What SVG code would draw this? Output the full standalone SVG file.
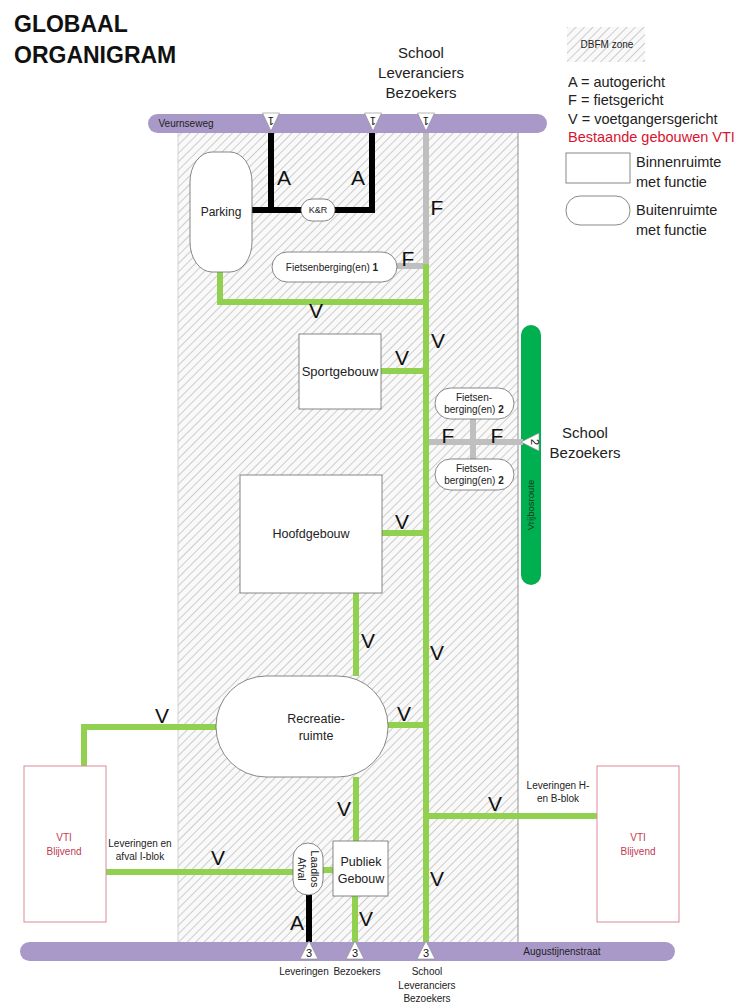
<svg xmlns="http://www.w3.org/2000/svg" width="739" height="1004" viewBox="0 0 739 1004">
<defs>
<pattern id="hatch" patternUnits="userSpaceOnUse" width="6" height="6" patternTransform="rotate(45)">
<rect width="6" height="6" fill="#f9f9f9"/>
<line x1="0.5" y1="0" x2="0.5" y2="6" stroke="#cdcdcd" stroke-width="1"/>
</pattern>
<style>
text{font-family:"Liberation Sans",Arial,sans-serif;fill:#222}
.node{fill:#fff;stroke:#6a6a6a;stroke-width:0.8}
.vti{fill:#fff;stroke:#d98a96;stroke-width:1}
.road{fill:#a999c9}
.g{stroke:#92d050;stroke-width:6;fill:none}
.k{stroke:#000;stroke-width:6;fill:none}
.f{stroke:#bfbfbf;stroke-width:6;fill:none}
.lbl{font-size:21px;fill:#111;text-anchor:middle}
.nt{font-size:12.5px;text-anchor:middle}
.sm{font-size:10px;text-anchor:middle}
.tri{fill:#fff;stroke:#888;stroke-width:0.6}
.tn{font-size:11px;text-anchor:middle;fill:#111}
.leg{font-size:14.5px}
.red{fill:#c33a52}
</style>
</defs>
<rect width="739" height="1004" fill="#fff"/>

<g id="title">
<text x="14" y="32" style="font-size:23px;font-weight:bold;fill:#111">GLOBAAL</text>
<text x="14" y="63" style="font-size:23px;font-weight:bold;fill:#111">ORGANIGRAM</text>
</g>

<g id="zone">
<rect x="178" y="133" width="340" height="810" fill="url(#hatch)"/>
<line x1="178" y1="133" x2="178" y2="943" stroke="#c8c8c8" stroke-width="0.8"/>
<line x1="518" y1="133" x2="518" y2="943" stroke="#777" stroke-width="0.8"/>
</g>

<g id="legend">
<rect x="567" y="27" width="78" height="35" fill="url(#hatch)"/>
<text x="607" y="48" class="sm">DBFM zone</text>
<text x="568" y="87" class="leg">A = autogericht</text>
<text x="568" y="105" class="leg">F = fietsgericht</text>
<text x="568" y="124" class="leg">V = voetgangersgericht</text>
<text x="568" y="142" class="leg" style="fill:#d9122e">Bestaande gebouwen VTI</text>
<rect x="566" y="153" width="64" height="30" class="node"/>
<text x="636" y="167" class="leg">Binnenruimte</text>
<text x="636" y="187" class="leg">met functie</text>
<rect x="566" y="196" width="64" height="29" rx="14" class="node"/>
<text x="636" y="215" class="leg">Buitenruimte</text>
<text x="636" y="235" class="leg">met functie</text>
</g>

<g id="top-labels">
<text x="421" y="58" style="font-size:15px;text-anchor:middle">School</text>
<text x="421" y="78" style="font-size:15px;text-anchor:middle">Leveranciers</text>
<text x="421" y="98" style="font-size:15px;text-anchor:middle">Bezoekers</text>
<text x="585" y="438" style="font-size:15px;text-anchor:middle">School</text>
<text x="585" y="458" style="font-size:15px;text-anchor:middle">Bezoekers</text>
</g>

<g id="vrijbosroute">
<rect x="521" y="325" width="20" height="260" rx="10" fill="#00b050"/>
<text transform="translate(534,505) rotate(-90)" style="font-size:9.5px;text-anchor:middle;fill:#0d3a1e">Vrijbosroute</text>
</g>

<g id="connectors">
<polyline class="k" points="252,210 372,210 372,128"/>
<line class="k" x1="271" y1="128" x2="271" y2="210"/>
<line class="k" x1="309" y1="895" x2="309" y2="943"/>
<polyline class="f" points="426,128 426,266 397,266"/>
<line class="f" x1="426" y1="442" x2="523" y2="442"/>
<line class="f" x1="473" y1="419" x2="473" y2="459"/>
<line class="g" x1="426" y1="264" x2="426" y2="943"/>
<polyline class="g" points="220,272 220,302 426,302"/>
<line class="g" x1="381" y1="371" x2="426" y2="371"/>
<line class="g" x1="382" y1="533" x2="426" y2="533"/>
<line class="g" x1="356" y1="593" x2="356" y2="676"/>
<line class="g" x1="388" y1="725" x2="426" y2="725"/>
<polyline class="g" points="216,727 84,727 84,766"/>
<line class="g" x1="356" y1="777" x2="356" y2="841"/>
<line class="g" x1="106" y1="872" x2="293" y2="872"/>
<line class="g" x1="323" y1="870" x2="333" y2="870"/>
<line class="g" x1="355" y1="896" x2="355" y2="943"/>
<line class="g" x1="426" y1="816" x2="597" y2="816"/>
</g>

<g id="connector-labels">
<text x="284" y="185" class="lbl">A</text>
<text x="358" y="185" class="lbl">A</text>
<text x="437" y="215" class="lbl">F</text>
<text x="408" y="266" class="lbl">F</text>
<text x="316" y="318" class="lbl">V</text>
<text x="438" y="348" class="lbl">V</text>
<text x="402" y="365" class="lbl">V</text>
<text x="448" y="443" class="lbl">F</text>
<text x="497" y="443" class="lbl">F</text>
<text x="402" y="529" class="lbl">V</text>
<text x="368" y="648" class="lbl">V</text>
<text x="437" y="660" class="lbl">V</text>
<text x="404" y="721" class="lbl">V</text>
<text x="162" y="723" class="lbl">V</text>
<text x="344" y="816" class="lbl">V</text>
<text x="495" y="811" class="lbl">V</text>
<text x="218" y="865" class="lbl">V</text>
<text x="437" y="886" class="lbl">V</text>
<text x="297" y="930" class="lbl">A</text>
<text x="366" y="926" class="lbl">V</text>
<text x="140" y="847" class="sm">Leveringen en</text>
<text x="140" y="860" class="sm">afval I-blok</text>
<text x="558" y="789" class="sm">Leveringen H-</text>
<text x="558" y="802" class="sm">en B-blok</text>
</g>

<g id="roads">
<rect x="148" y="114" width="399" height="19" rx="9.5" class="road"/>
<text x="186" y="127" class="sm">Veurnseweg</text>
<rect x="20" y="942" width="655" height="19" rx="9.5" class="road"/>
<text x="562" y="955" class="sm">Augustijnenstraat</text>
</g>

<g id="access-points">
<polygon class="tri" points="262.5,113 279.5,113 271,131"/>
<text transform="translate(271,117) rotate(180)" class="tn">1</text>
<polygon class="tri" points="364.5,113 381.5,113 373,131"/>
<text transform="translate(373,117) rotate(180)" class="tn">1</text>
<polygon class="tri" points="417.5,113 434.5,113 426,131"/>
<text transform="translate(426,117) rotate(180)" class="tn">1</text>
<polygon class="tri" points="521,442 539,433 539,451"/>
<text transform="translate(531,442) rotate(90)" class="tn">2</text>
<polygon class="tri" points="309,941 300,959 318,959"/>
<text x="309" y="957" class="tn">3</text>
<polygon class="tri" points="355,941 346,959 364,959"/>
<text x="355" y="957" class="tn">3</text>
<polygon class="tri" points="426,941 417,959 435,959"/>
<text x="426" y="957" class="tn">3</text>
<text x="304" y="975" class="sm">Leveringen</text>
<text x="357" y="975" class="sm">Bezoekers</text>
<text x="427" y="975" class="sm">School</text>
<text x="427" y="989" class="sm">Leveranciers</text>
<text x="427" y="1002" class="sm">Bezoekers</text>
</g>

<g id="parking">
<rect x="190" y="152" width="62" height="120" rx="22" ry="30" class="node"/>
<text x="221" y="216" style="font-size:12px;text-anchor:middle">Parking</text>
</g>
<g id="kr">
<rect x="301" y="199" width="34" height="22" rx="11" class="node"/>
<text x="318" y="213" style="font-size:9px;text-anchor:middle">K&amp;R</text>
</g>
<g id="fietsenberging1">
<rect x="272" y="252" width="125" height="30" rx="15" class="node"/>
<text x="332" y="271" style="font-size:10px;text-anchor:middle">Fietsenberging(en) <tspan font-weight="bold">1</tspan></text>
</g>
<g id="sportgebouw">
<rect x="299" y="334" width="82" height="75" class="node"/>
<text x="340" y="376" style="font-size:13px;text-anchor:middle">Sportgebouw</text>
</g>
<g id="fietsenberging2a">
<rect x="435" y="388" width="79" height="31" rx="15.5" class="node"/>
<text x="474" y="401" style="font-size:10px;text-anchor:middle">Fietsen-</text>
<text x="474" y="413" style="font-size:10px;text-anchor:middle">berging(en) <tspan font-weight="bold">2</tspan></text>
</g>
<g id="fietsenberging2b">
<rect x="435" y="459" width="79" height="31" rx="15.5" class="node"/>
<text x="474" y="472" style="font-size:10px;text-anchor:middle">Fietsen-</text>
<text x="474" y="484" style="font-size:10px;text-anchor:middle">berging(en) <tspan font-weight="bold">2</tspan></text>
</g>
<g id="hoofdgebouw">
<rect x="240" y="475" width="142" height="118" class="node"/>
<text x="311" y="538" class="nt">Hoofdgebouw</text>
</g>
<g id="recreatieruimte">
<rect x="216" y="676" width="172" height="101" rx="50" class="node"/>
<text x="316" y="723" class="nt">Recreatie-</text>
<text x="316" y="740" class="nt">ruimte</text>
</g>
<g id="laadlos-afval">
<rect x="293" y="843" width="30" height="52" rx="15" class="node"/>
<text transform="translate(308,869) rotate(90)" style="font-size:10.5px;text-anchor:middle"><tspan x="0" y="-3">Laadlos</tspan><tspan x="0" y="10">Afval</tspan></text>
</g>
<g id="publiek-gebouw">
<rect x="333" y="841" width="55" height="55" class="node"/>
<text x="361" y="866" class="nt">Publiek</text>
<text x="361" y="883" class="nt">Gebouw</text>
</g>
<g id="vti-left">
<rect x="24" y="766" width="82" height="156" class="vti"/>
<text x="64" y="841" class="sm red">VTI</text>
<text x="64" y="855" class="sm red">Blijvend</text>
</g>
<g id="vti-right">
<rect x="597" y="766" width="82" height="156" class="vti"/>
<text x="638" y="841" class="sm red">VTI</text>
<text x="638" y="855" class="sm red">Blijvend</text>
</g>
</svg>
